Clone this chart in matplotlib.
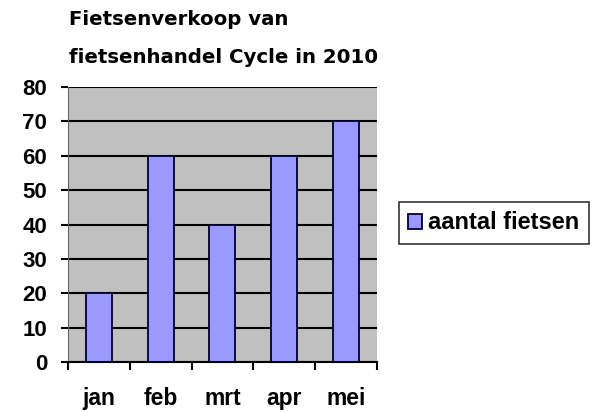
import numpy as np
import matplotlib.pyplot as plt

months = ["jan", "feb", "mrt", "apr", "mei"]
bikes = [20, 60, 40, 60, 70]
series_name = "aantal fietsen"
title = "Fietsenverkoop van\nfietsenhandel Cycle in 2010"

fig = plt.figure(figsize=(5.98, 4.12), dpi=100)
ax = fig.add_axes([0.114, 0.121, 0.516, 0.668])

x = np.arange(len(months))
ax.set_facecolor("#c0c0c0")
ax.set_axisbelow(True)
ax.yaxis.grid(True, color="black", linewidth=1.5)
bars = ax.bar(x, bikes, width=0.42, color="#9999ff", edgecolor="#000033",
              linewidth=1.3, label=series_name)

ax.set_xlim(-0.5, len(months) - 0.5)
ax.set_ylim(0, 80)
ax.set_yticks(range(0, 81, 10))
ax.set_yticklabels([str(v) for v in range(0, 81, 10)],
                   fontfamily="Liberation Sans", fontweight="bold", fontsize=16)

# ticks at category boundaries, labels centered under bars
ax.set_xticks(np.arange(-0.5, len(months), 1.0))
ax.set_xticklabels([])
ax.set_xticks(x, minor=True)
ax.set_xticklabels(months, minor=True, fontfamily="Liberation Sans",
                   fontweight="bold", fontsize=16.5)
ax.tick_params(axis="x", which="minor", length=0, pad=18)
ax.tick_params(axis="x", which="major", length=6, width=1.5, direction="out")
ax.tick_params(axis="y", length=5, width=1.5, direction="out", pad=10)

for side in ["top", "right"]:
    ax.spines[side].set_visible(False)
ax.spines["left"].set_color("#666666")
ax.spines["bottom"].set_linewidth(1.5)

fig.text(0.116, 0.976, title, ha="left", va="top", fontsize=14.2,
         fontweight="bold", fontfamily="DejaVu Sans", linespacing=2.3)

leg = fig.legend(handles=[bars], labels=[series_name], loc="center",
                 bbox_to_anchor=(0.826, 0.459), frameon=True, fancybox=False,
                 edgecolor="black", handlelength=0.6, handleheight=0.6,
                 handletextpad=0.25, borderpad=0.4,
                 prop={"family": "Liberation Sans", "weight": "bold", "size": 17})
leg.get_frame().set_linewidth(1.2)

fig.savefig("out.png", dpi=100)
